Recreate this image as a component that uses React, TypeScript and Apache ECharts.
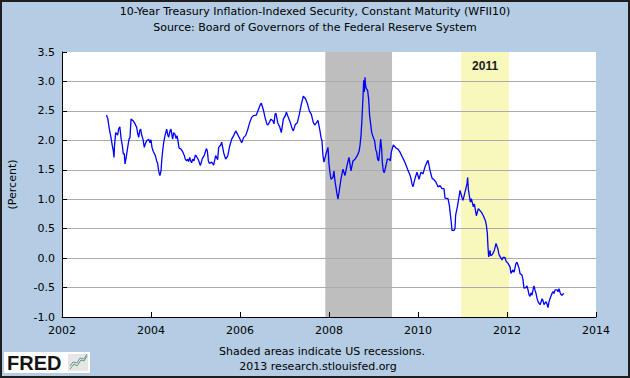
import React, { useEffect, useRef } from "react";
import * as echarts from "echarts";

const TITLE = "10-Year Treasury Inflation-Indexed Security, Constant Maturity (WFII10)";
const SUBTITLE = "Source: Board of Governors of the Federal Reserve System";
const FOOT1 = "Shaded areas indicate US recessions.";
const FOOT2 = "2013 research.stlouisfed.org";
const Y_NAME = "(Percent)";

const xRange = { min: 2002, max: 2014, step: 2 };
const yRange = { min: -1, max: 3.5, step: 0.5 };

// recession periods (decimal years)
const recessions: [number, number][] = [[2007.917, 2009.417]];
// highlighted year
const highlightLabel = "2011";
const highlightSpan: [number, number] = [2010.97, 2012.045];

// [decimal year, percent]
const seg2003to2004: [number, number][] = [
  [2003.0, 2.43], [2003.03, 2.36], [2003.064, 2.19], [2003.1, 2.05], [2003.13, 1.91],
  [2003.153, 1.82], [2003.168, 1.71], [2003.18, 1.91], [2003.206, 2.13], [2003.25, 2.09],
  [2003.273, 2.19], [2003.3, 2.23], [2003.33, 2.02], [2003.356, 1.91], [2003.378, 1.77],
  [2003.4, 1.77], [2003.416, 1.6], [2003.438, 1.69], [2003.476, 1.88], [2003.506, 2.02],
  [2003.528, 2.05], [2003.551, 2.36], [2003.603, 2.33], [2003.648, 2.27], [2003.678, 2.22],
  [2003.7, 2.12], [2003.723, 2.05], [2003.746, 2.16], [2003.768, 2.19], [2003.79, 2.09],
  [2003.82, 2.02], [2003.85, 1.88], [2003.873, 1.94], [2003.9, 1.99], [2003.948, 2.02],
  [2003.978, 1.96], [2004.0, 2.01], [2004.022, 1.88], [2004.052, 1.81], [2004.097, 1.74],
  [2004.127, 1.65], [2004.15, 1.61], [2004.172, 1.48], [2004.2, 1.4], [2004.225, 1.48],
  [2004.24, 1.65], [2004.262, 1.82], [2004.285, 1.96], [2004.315, 2.08], [2004.352, 2.19],
  [2004.375, 2.1], [2004.397, 2.05], [2004.427, 2.16], [2004.45, 2.19], [2004.472, 2.08],
  [2004.487, 2.02], [2004.51, 2.13], [2004.54, 2.1], [2004.562, 2.03], [2004.584, 2.08],
  [2004.607, 1.99], [2004.63, 1.87], [2004.674, 1.85], [2004.71, 1.81], [2004.75, 1.74],
  [2004.77, 1.68], [2004.8, 1.65], [2004.824, 1.68], [2004.846, 1.64], [2004.87, 1.71],
  [2004.89, 1.65], [2004.914, 1.62], [2004.936, 1.68], [2004.966, 1.65], [2004.996, 1.75],
];

const seg2005to2007: [number, number][] = [
  [2005.011, 1.74], [2005.064, 1.67], [2005.109, 1.57], [2005.154, 1.69], [2005.199, 1.75],
  [2005.244, 1.86], [2005.266, 1.82], [2005.289, 1.65], [2005.311, 1.61], [2005.364, 1.63],
  [2005.408, 1.58], [2005.453, 1.74], [2005.498, 1.67], [2005.521, 1.88], [2005.566, 1.92],
  [2005.588, 1.97], [2005.633, 1.79], [2005.678, 1.68], [2005.723, 1.73], [2005.768, 1.9],
  [2005.813, 2.02], [2005.858, 2.08], [2005.903, 2.16], [2005.948, 2.1], [2005.993, 2.03],
  [2006.038, 1.96], [2006.083, 2.05], [2006.127, 2.08], [2006.172, 2.18], [2006.217, 2.3],
  [2006.262, 2.39], [2006.307, 2.42], [2006.367, 2.43], [2006.412, 2.52], [2006.457, 2.61],
  [2006.479, 2.63], [2006.524, 2.52], [2006.562, 2.39], [2006.607, 2.27], [2006.629, 2.26],
  [2006.697, 2.36], [2006.742, 2.33], [2006.764, 2.28], [2006.787, 2.44], [2006.809, 2.46],
  [2006.847, 2.3], [2006.891, 2.23], [2006.929, 2.13], [2006.974, 2.36], [2007.019, 2.42],
  [2007.041, 2.48], [2007.086, 2.39], [2007.131, 2.3], [2007.176, 2.19], [2007.199, 2.16],
  [2007.243, 2.27], [2007.288, 2.3], [2007.333, 2.44], [2007.378, 2.61], [2007.423, 2.75],
  [2007.468, 2.71], [2007.513, 2.63], [2007.558, 2.5], [2007.603, 2.44], [2007.648, 2.3],
  [2007.685, 2.26], [2007.752, 2.34], [2007.797, 2.16], [2007.82, 2.05], [2007.842, 1.99],
  [2007.865, 1.74], [2007.887, 1.63], [2007.932, 1.77], [2007.977, 1.88],
];

const seg2008to2009: [number, number][] = [
  [2008.0, 1.6], [2008.022, 1.45], [2008.045, 1.34], [2008.089, 1.37], [2008.112, 1.48],
  [2008.134, 1.31], [2008.157, 1.2], [2008.179, 1.09], [2008.202, 1.0], [2008.247, 1.23],
  [2008.269, 1.34], [2008.314, 1.51], [2008.359, 1.4], [2008.404, 1.57], [2008.449, 1.71],
  [2008.494, 1.48], [2008.539, 1.65], [2008.584, 1.68], [2008.629, 1.73], [2008.674, 1.81],
  [2008.696, 1.91], [2008.719, 2.08], [2008.741, 2.36], [2008.764, 2.73], [2008.779, 3.02],
  [2008.794, 2.82], [2008.809, 3.07], [2008.823, 2.93], [2008.838, 2.88], [2008.868, 2.85],
  [2008.891, 2.7], [2008.913, 2.42], [2008.936, 2.28], [2008.958, 2.14], [2008.981, 2.08],
  [2009.026, 1.99], [2009.048, 1.85], [2009.071, 1.8], [2009.093, 1.68], [2009.116, 1.65],
  [2009.138, 1.82], [2009.161, 2.02], [2009.183, 1.85], [2009.198, 1.63], [2009.221, 1.48],
  [2009.243, 1.45], [2009.288, 1.6], [2009.31, 1.68], [2009.355, 1.68], [2009.378, 1.65],
  [2009.4, 1.8], [2009.445, 1.92], [2009.505, 1.87], [2009.55, 1.85], [2009.595, 1.8],
  [2009.64, 1.73], [2009.685, 1.66], [2009.73, 1.58], [2009.775, 1.49], [2009.82, 1.41],
  [2009.843, 1.35], [2009.865, 1.26], [2009.887, 1.21], [2009.932, 1.35], [2009.977, 1.46],
];

const seg2010to2011: [number, number][] = [
  [2010.022, 1.34], [2010.067, 1.46], [2010.112, 1.43], [2010.157, 1.55], [2010.202, 1.63],
  [2010.225, 1.66], [2010.27, 1.49], [2010.314, 1.36], [2010.359, 1.33], [2010.404, 1.29],
  [2010.449, 1.21], [2010.494, 1.23], [2010.539, 1.18], [2010.584, 1.18], [2010.607, 1.02],
  [2010.674, 1.01], [2010.704, 0.9], [2010.726, 0.75], [2010.749, 0.6], [2010.764, 0.47],
  [2010.809, 0.47], [2010.831, 0.5], [2010.846, 0.73], [2010.884, 0.87], [2010.929, 1.07],
  [2010.944, 1.15], [2010.989, 1.03], [2011.011, 0.98], [2011.056, 1.12], [2011.101, 1.26],
  [2011.116, 1.37], [2011.131, 1.17], [2011.176, 0.95], [2011.199, 1.01], [2011.244, 0.87],
  [2011.266, 0.92], [2011.311, 0.72], [2011.356, 0.84], [2011.423, 0.78], [2011.468, 0.72],
  [2011.513, 0.64], [2011.536, 0.56], [2011.558, 0.42], [2011.573, 0.19], [2011.588, 0.02],
  [2011.618, 0.13], [2011.633, 0.04], [2011.671, 0.06], [2011.715, 0.13], [2011.753, 0.25],
  [2011.798, 0.15], [2011.82, 0.06], [2011.865, 0.0], [2011.888, -0.03], [2011.91, 0.01],
  [2011.955, 0.01], [2011.978, -0.05],
];

const seg2012to2013: [number, number][] = [
  [2012.023, -0.09], [2012.068, -0.15], [2012.09, -0.26], [2012.135, -0.2], [2012.157, -0.24],
  [2012.202, -0.09], [2012.225, -0.07], [2012.27, -0.17], [2012.292, -0.26], [2012.337, -0.29],
  [2012.36, -0.37], [2012.382, -0.51], [2012.427, -0.5], [2012.45, -0.47], [2012.472, -0.54],
  [2012.494, -0.62], [2012.517, -0.65], [2012.539, -0.59], [2012.562, -0.63], [2012.584, -0.54],
  [2012.607, -0.47], [2012.629, -0.54], [2012.652, -0.6], [2012.674, -0.68], [2012.697, -0.74],
  [2012.742, -0.79], [2012.764, -0.75], [2012.787, -0.69], [2012.809, -0.72], [2012.831, -0.79],
  [2012.876, -0.74], [2012.899, -0.78], [2012.921, -0.84], [2012.944, -0.74], [2012.966, -0.69],
  [2013.011, -0.6], [2013.034, -0.57], [2013.056, -0.6], [2013.079, -0.54], [2013.124, -0.54],
  [2013.146, -0.57], [2013.169, -0.52], [2013.191, -0.58], [2013.213, -0.62], [2013.236, -0.63],
  [2013.258, -0.61], [2013.281, -0.6],
];

const wfii10 = [...seg2003to2004, ...seg2005to2007, ...seg2008to2009, ...seg2010to2011, ...seg2012to2013];

const FONT = "'DejaVu Sans', Verdana, sans-serif";

export default function App() {
  const ref = useRef<HTMLDivElement>(null);
  useEffect(() => {
    if (!ref.current) return;
    const chart = echarts.init(ref.current, null, { renderer: "svg" });
    const bands: any[] = [
      ...recessions.map(([s, e]) => [
        { xAxis: s, itemStyle: { color: "#BEBEBE" } },
        { xAxis: e },
      ]),
      [
        {
          xAxis: highlightSpan[0],
          itemStyle: { color: "#F8F7BC" },
          label: {
            show: true,
            formatter: highlightLabel,
            position: "insideTop",
            distance: 8,
            color: "#1a1a1a",
            fontWeight: "bold",
            fontSize: 12,
            fontFamily: "'Liberation Sans', Arial, sans-serif",
          },
        },
        { xAxis: highlightSpan[1] },
      ],
    ];
    chart.setOption({
      animation: false,
      backgroundColor: "#B4CDE4",
      textStyle: { fontFamily: FONT },
      grid: {
        left: 62,
        right: 34,
        top: 52,
        bottom: 61,
        show: true,
        backgroundColor: "#ffffff",
        borderWidth: 0,
        containLabel: false,
        outerBoundsMode: "none",
      },
      xAxis: {
        type: "value",
        min: xRange.min,
        max: xRange.max,
        interval: xRange.step,
        z: 4,
        axisLine: { show: true, onZero: false, lineStyle: { color: "#000", width: 1 } },
        axisTick: { show: true, inside: true, length: 5, lineStyle: { color: "#000" } },
        axisLabel: { color: "#000", fontSize: 11, margin: 8, fontFamily: FONT, formatter: (v: number) => String(v) },
        splitLine: { show: false },
      },
      yAxis: {
        type: "value",
        min: yRange.min,
        max: yRange.max,
        interval: yRange.step,
        z: 2,
        name: Y_NAME,
        nameLocation: "middle",
        nameGap: 44,
        nameTextStyle: { color: "#000", fontSize: 11, fontFamily: FONT },
        axisLine: { show: true, lineStyle: { color: "#000", width: 1 } },
        axisTick: { show: true, inside: true, length: 5, lineStyle: { color: "#000" } },
        axisLabel: { color: "#000", fontSize: 11, margin: 7, fontFamily: FONT, formatter: (v: number) => v.toFixed(1) },
        splitLine: { show: true, showMaxLine: false, showMinLine: false, lineStyle: { color: "#ABABAB", width: 1 } },
      },
      series: [
        {
          type: "line",
          data: wfii10,
          z: 1,
          silent: true,
          symbol: "none",
          lineStyle: { opacity: 0 },
          markArea: { silent: true, data: bands },
        },
        {
          type: "line",
          data: wfii10,
          z: 5,
          symbol: "none",
          showSymbol: false,
          lineStyle: { color: "#0000FF", width: 1.3 },
        },
      ],
      graphic: [
        { type: "text", x: 315, y: 11, style: { text: TITLE, fill: "#000", font: `11px ${FONT}`, textAlign: "center", textVerticalAlign: "middle" } },
        { type: "text", x: 315, y: 27, style: { text: SUBTITLE, fill: "#000", font: `11px ${FONT}`, textAlign: "center", textVerticalAlign: "middle" } },
        { type: "text", x: 322, y: 351, style: { text: FOOT1, fill: "#000", font: `11px ${FONT}`, textAlign: "center", textVerticalAlign: "middle" } },
        { type: "text", x: 318, y: 366, style: { text: FOOT2, fill: "#000", font: `11px ${FONT}`, textAlign: "center", textVerticalAlign: "middle" } },
        { type: "rect", shape: { x: 4, y: 352, width: 86, height: 21 }, style: { fill: "#ffffff" } },
        { type: "text", x: 7, y: 363, style: { text: "FRED", fill: "#141414", font: "bold 20px 'Liberation Sans', Arial, sans-serif", textVerticalAlign: "middle" } },
        { type: "rect", shape: { x: 68, y: 354, width: 20, height: 17 }, style: { fill: "#e6e6e6" } },
        { type: "polyline", shape: { points: [[70, 369], [74, 364], [77, 366], [81, 360], [84, 361], [87, 356]] }, style: { stroke: "#5aa05a", lineWidth: 1, fill: null } },
        { type: "polyline", shape: { points: [[70, 366], [73, 362], [77, 363], [80, 358], [84, 359], [87, 354]] }, style: { stroke: "#6f8fbf", lineWidth: 1, fill: null } },
        { type: "rect", z: 100, shape: { x: 1, y: 1, width: 628, height: 376 }, style: { fill: "rgba(0,0,0,0)", stroke: "#1e1e1e", lineWidth: 2 } },
      ],
    });
    return () => chart.dispose();
  }, []);
  return <div ref={ref} style={{ position: "fixed", left: 0, top: 0, width: 630, height: 378 }} />;
}
